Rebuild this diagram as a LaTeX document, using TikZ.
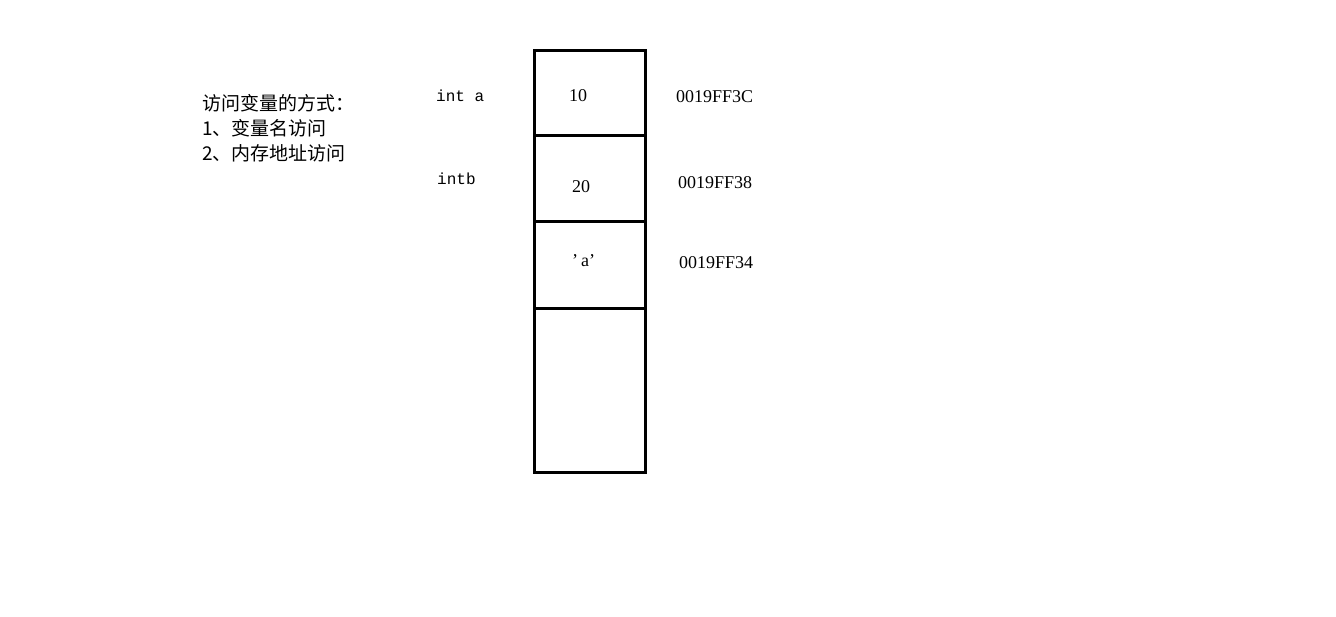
\documentclass[tikz,border=0pt]{standalone}
\usepackage{fontspec}
\setmainfont{Liberation Serif}
\newfontfamily\cjk{Noto Sans CJK SC}
\newfontfamily\mono{Liberation Mono}
\begin{document}
\begin{tikzpicture}[x=1pt,y=-1pt,
  cell/.style={draw=black,line width=3pt,minimum width=111pt,inner sep=0pt,outer sep=0pt,anchor=north west},
  lbl/.style={anchor=base west,inner sep=0pt,font=\fontsize{18}{20}\selectfont},
  cjklbl/.style={anchor=base west,inner sep=0pt,font=\cjk\fontsize{19}{21}\selectfont},
  monolbl/.style={anchor=base west,inner sep=0pt,font=\mono\fontsize{16}{18}\selectfont}]
\useasboundingbox[fill=white] (0,0) rectangle (1336,616);
% memory cells
\node[cell,minimum height=85pt] (c1) at (534,50) {};
\node[cell,minimum height=86pt] (c2) at (534,135) {};
\node[cell,minimum height=87pt] (c3) at (534,221) {};
\node[cell,minimum height=164pt] (c4) at (534,308) {};
% values
\node[lbl] (v1) at (569,101) {10};
\node[lbl] (v2) at (572,192) {20};
\node[lbl] (v3) at (572,266) {’\,a’};
% addresses
\node[lbl] (a1) at (676,102) {0019FF3C};
\node[lbl] (a2) at (678,188) {0019FF38};
\node[lbl] (a3) at (679,268) {0019FF34};
% variable names
\node[monolbl] (n1) at (436,101) {int a};
\node[monolbl] (n2) at (437,184) {intb};
% notes
\node[cjklbl] (t1) at (202,110) {访问变量的方式：};
\node[cjklbl] (t2) at (202,135) {1、变量名访问};
\node[cjklbl] (t3) at (202,160) {2、内存地址访问};
\end{tikzpicture}
\end{document}
